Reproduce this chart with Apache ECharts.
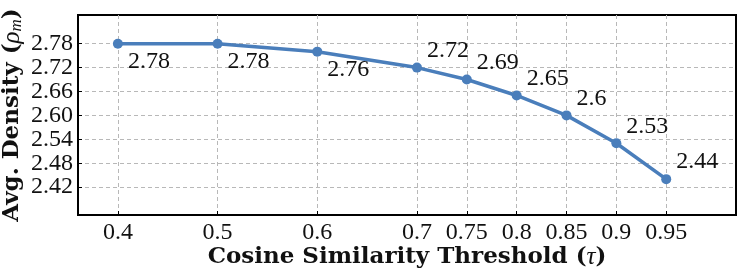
<!DOCTYPE html>
<html>
<head>
<meta charset="utf-8">
<script src="https://cdn.jsdelivr.net/npm/echarts@6/dist/echarts.min.js"></script>
<style>
html,body{margin:0;padding:0;background:#fff;}
#c{width:739px;height:275px;}
</style>
</head>
<body>
<div id="c"></div>
<script>
// Data
const thresholds = [0.4, 0.5, 0.6, 0.7, 0.75, 0.8, 0.85, 0.9, 0.95];
const densities = [2.78, 2.78, 2.76, 2.72, 2.69, 2.65, 2.6, 2.53, 2.44];
const yTicks = [2.42, 2.48, 2.54, 2.60, 2.66, 2.72, 2.78];
const xTicks = [0.4, 0.5, 0.6, 0.7, 0.75, 0.8, 0.85, 0.9, 0.95];
const labelBelow = [true, true, true, false, false, false, false, false, false];

const numFont = '"Liberation Serif", "Times New Roman", serif';
const titleFont = '"DejaVu Serif", serif';
const lineColor = '#4a7ebb';

const chart = echarts.init(document.getElementById('c'), null, {renderer: 'canvas'});

const seriesData = thresholds.map((x, i) => ({
  value: [x, densities[i]],
  label: {
    show: true,
    position: 'right',
    distance: 5,
    offset: [0, labelBelow[i] ? 18 : -17],
    formatter: String(densities[i]),
    fontFamily: numFont,
    fontSize: 24,
    color: '#111'
  }
}));

const gridLine = {show: true, lineStyle: {color: '#b8b8b8', type: [4, 3], width: 1}};

chart.setOption({
  animation: false,
  backgroundColor: '#fff',
  grid: {left: 78, right: 3, top: 15, bottom: 60, containLabel: false, outerBoundsMode: 'none', show: true, borderColor: '#000', borderWidth: 2, backgroundColor: 'transparent'},
  xAxis: {
    type: 'value',
    min: 0.36,
    max: 1.02,
    axisLine: {show: false},
    axisTick: {show: true, inside: true, length: 4, customValues: xTicks, lineStyle: {color: '#000'}},
    axisLabel: {customValues: xTicks, interval: 0, formatter: v => String(+v.toFixed(2)), fontFamily: numFont, fontSize: 24, color: '#111', margin: 6, hideOverlap: false, showMinLabel: true, showMaxLabel: true},
    splitLine: gridLine,
    name: '{b|Cosine Similarity Threshold (}{i|τ}{b|)}',
    nameLocation: 'middle',
    nameGap: 30,
    nameMoveOverlap: false,
    nameTextStyle: {
      rich: {
        b: {fontFamily: titleFont, fontWeight: 'bold', fontSize: 23, color: '#111'},
        i: {fontFamily: numFont, fontStyle: 'italic', fontSize: 25, color: '#111'}
      }
    }
  },
  yAxis: {
    type: 'value',
    min: 2.35,
    max: 2.852,
    axisLine: {show: false},
    axisTick: {show: true, inside: true, length: 4, customValues: yTicks, lineStyle: {color: '#000'}},
    axisLabel: {customValues: yTicks, interval: 0, formatter: v => v.toFixed(2), fontFamily: numFont, fontSize: 24, lineHeight: 20, color: '#111', margin: 5, hideOverlap: false, showMinLabel: true, showMaxLabel: true},
    splitLine: gridLine,
    name: '{b|Avg. Density (}{i|ρ}{s|m}{b|)}',
    nameLocation: 'middle',
    nameGap: 53,
    nameRotate: 90,
    nameMoveOverlap: false,
    nameTextStyle: {
      rich: {
        b: {fontFamily: titleFont, fontWeight: 'bold', fontSize: 23, color: '#111', verticalAlign: 'middle'},
        i: {fontFamily: numFont, fontStyle: 'italic', fontSize: 25, color: '#111', verticalAlign: 'middle'},
        s: {fontFamily: numFont, fontStyle: 'italic', fontSize: 17, color: '#111', verticalAlign: 'bottom'}
      }
    }
  },
  series: [{
    type: 'line',
    data: seriesData,
    symbol: 'circle',
    symbolSize: 10,
    lineStyle: {color: lineColor, width: 3.5},
    itemStyle: {color: lineColor},
    z: 5
  }]
});
</script>
</body>
</html>
